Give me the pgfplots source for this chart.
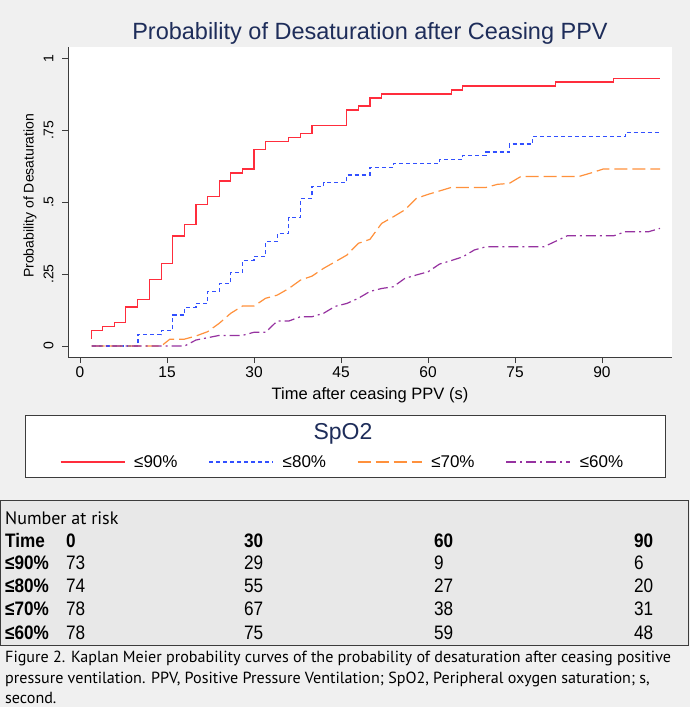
\documentclass[border=0pt]{standalone}
\usepackage{fontspec}
\setmainfont{Liberation Sans}
\newfontfamily\narrowfont[FakeStretch=0.88]{Liberation Sans}
\newfontfamily\capfont{PT Sans}
\usepackage{pgfplots}
\pgfplotsset{compat=1.18}
\definecolor{bg}{RGB}{240,240,240}
\definecolor{tablebg}{RGB}{232,232,232}
\definecolor{navy}{RGB}{30,45,90}
\definecolor{kmred}{RGB}{255,45,60}
\definecolor{kmblue}{RGB}{50,80,255}
\definecolor{kmorange}{RGB}{255,145,60}
\definecolor{kmpurple}{RGB}{150,50,160}
\definecolor{axgray}{RGB}{60,60,60}
\newcommand{\fs}[1]{\fontsize{#1bp}{1.2\dimexpr#1bp\relax}\selectfont}
\begin{document}
\begin{tikzpicture}
\fill[bg] (0,0) rectangle (690bp,-707bp);
\node[navy, font=\fs{23.5}] at (370bp,-33bp) {Probability of Desaturation after Ceasing PPV};
\draw[fill=white, draw=axgray, line width=0.8bp] (25bp,-415bp) rectangle (665bp,-477bp);
\node[navy, font=\fs{23}] at (343bp,-434bp) {SpO2};
\begin{axis}[at={(68bp,-357bp)}, anchor=south west, scale only axis,
  width=604bp, height=310bp,
  xmin=-2.07, xmax=102.07, ymin=-0.038, ymax=1.039,
  axis x line*=bottom, axis y line*=left,
  axis line style={axgray, line width=0.8bp, -},
  axis background/.style={fill=white},
  xtick={0,15,...,90}, ytick={0,0.25,0.5,0.75,1}, yticklabels={0,.25,.5,.75,1},
  tick align=outside, major tick length=6bp, tick style={axgray, line width=0.8bp},
  /pgf/number format/assume math mode=true,
  xticklabel style={font=\fs{15.5}},
  yticklabel style={font=\fs{14}, rotate=90, anchor=south, yshift=5bp},
  xlabel={Time after ceasing PPV (s)}, ylabel={Probability of Desaturation},
  xlabel style={font=\fs{16.5}, at={(axis description cs:0.5,-0.1226)}, anchor=center},
  ylabel style={font=\fs{14}, at={(axis description cs:-0.0629,0.52)}, anchor=center},
  legend columns=4,
  legend style={at={(axis description cs:0.4545,-0.3387)}, anchor=center, draw=none, fill=none,
    font=\fs{17}, /tikz/every even column/.append style={column sep=29bp}},
  legend image code/.code={\draw[#1] (0bp,0bp) -- (64bp,0bp); \path (71bp,0bp);},
]
\addplot[kmred, line width=1.3bp, const plot mark left] coordinates {
(2,0.025) (2,0.053) (3.9,0.067) (5.9,0.081) (7.9,0.136) (9.9,0.163) (12,0.232) (14,0.287)
(16,0.382) (18,0.423) (20,0.492) (22,0.520) (24,0.573) (26,0.601) (28,0.615) (30,0.684)
(32,0.711) (36,0.724) (38,0.738) (40,0.766) (46,0.820) (48,0.834) (50,0.862) (52,0.876)
(64,0.890) (66,0.903) (82,0.917) (92,0.930) (100,0.930)};
\addlegendentry{≤90\%}
\addplot[kmblue, line width=1.2bp, dash pattern=on 4bp off 3bp, const plot mark left] coordinates {
(2,0) (10,0.039) (14,0.053) (16,0.108) (18,0.134) (20,0.147) (22,0.189) (24,0.216) (26,0.256)
(28,0.297) (30,0.310) (32,0.364) (34,0.392) (36,0.446) (38,0.513) (40,0.554) (42,0.568)
(46,0.594) (50,0.621) (54,0.634) (62,0.648) (66,0.661) (70,0.674) (74,0.702) (78,0.729)
(94,0.743) (100,0.743)};
\addlegendentry{≤80\%}
\addplot[kmorange, line width=1.2bp, dash pattern=on 13bp off 5bp] coordinates {
(2,0) (14,0) (15.5,0.024) (18,0.024) (20,0.035) (22,0.050) (24,0.079) (26,0.114) (28,0.139)
(30,0.139) (32,0.166) (34,0.177) (36,0.200) (38,0.229) (40,0.243) (42,0.270) (44,0.293)
(46,0.316) (48,0.357) (50,0.371) (52,0.426) (54,0.449) (56,0.473) (58,0.513) (60,0.527)
(62,0.539) (64,0.551) (70,0.551) (72,0.562) (74,0.565) (76,0.589) (86,0.589) (88.2,0.602)
(90.2,0.615) (100,0.615)};
\addlegendentry{≤70\%}
\addplot[kmpurple, line width=1.2bp, dash pattern=on 10bp off 4bp on 2bp off 4bp] coordinates {
(2,0) (18,0) (20,0.021) (22,0.029) (24,0.037) (28,0.037) (30,0.048) (32,0.048) (34,0.087)
(36,0.087) (38,0.102) (40,0.102) (42,0.114) (44,0.138) (46,0.148) (48,0.166) (50,0.190)
(52,0.200) (54,0.206) (56,0.235) (58,0.247) (60,0.258) (62,0.285) (64,0.297) (66,0.310)
(68,0.334) (70,0.345) (80,0.345) (84,0.383) (92,0.383) (94,0.397) (98,0.397) (100,0.409)};
\addlegendentry{≤60\%}
\end{axis}
% number at risk table
\draw[fill=tablebg, draw=axgray, line width=0.8bp] (0.5bp,-500bp) rectangle (688.5bp,-645bp);
\begin{scope}[every node/.style={anchor=base west, inner sep=0pt}]
\node[font=\capfont\fs{18}] at (5bp,-524bp) {Number at risk};
\node[font=\narrowfont\bfseries\fs{19.5}] at (5bp,-547bp) {Time};
\node[font=\narrowfont\bfseries\fs{19.5}] at (66bp,-547bp) {0};
\node[font=\narrowfont\bfseries\fs{19.5}] at (244bp,-547bp) {30};
\node[font=\narrowfont\bfseries\fs{19.5}] at (434bp,-547bp) {60};
\node[font=\narrowfont\bfseries\fs{19.5}] at (634bp,-547bp) {90};
\foreach \lab/\a/\b/\c/\d/\yy in {≤90\%/73/29/9/6/569, ≤80\%/74/55/27/20/592, ≤70\%/78/67/38/31/615, ≤60\%/78/75/59/48/639}{
  \node[font=\narrowfont\bfseries\fs{19.5}] at (5bp,-\yy bp) {\lab};
  \node[font=\narrowfont\fs{19.5}] at (66bp,-\yy bp) {\a};
  \node[font=\narrowfont\fs{19.5}] at (244bp,-\yy bp) {\b};
  \node[font=\narrowfont\fs{19.5}] at (434bp,-\yy bp) {\c};
  \node[font=\narrowfont\fs{19.5}] at (634bp,-\yy bp) {\d};
}
\node[font=\capfont\fs{16.1}] at (5bp,-662bp) {Figure 2. Kaplan Meier probability curves of the probability of desaturation after ceasing positive};
\node[font=\capfont\fs{16.1}] at (5bp,-683bp) {pressure ventilation. PPV, Positive Pressure Ventilation; SpO2, Peripheral oxygen saturation; s,};
\node[font=\capfont\fs{16.1}] at (5bp,-703bp) {second.};
\end{scope}
\end{tikzpicture}
\end{document}
